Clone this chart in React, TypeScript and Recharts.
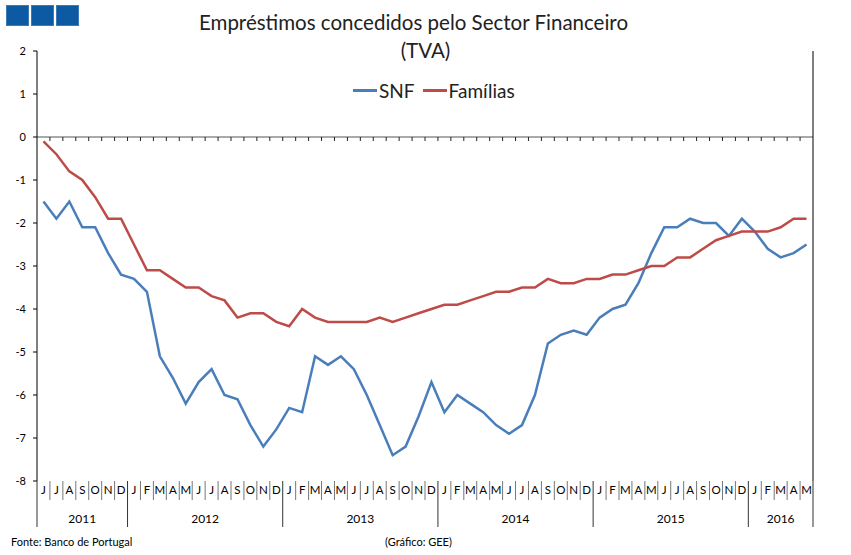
import React from 'react';
import { LineChart, Line, XAxis, YAxis, ReferenceLine } from 'recharts';

const months: string[] = [
  'J', 'J', 'A', 'S', 'O', 'N', 'D',
  'J', 'F', 'M', 'A', 'M', 'J', 'J', 'A', 'S', 'O', 'N', 'D',
  'J', 'F', 'M', 'A', 'M', 'J', 'J', 'A', 'S', 'O', 'N', 'D',
  'J', 'F', 'M', 'A', 'M', 'J', 'J', 'A', 'S', 'O', 'N', 'D',
  'J', 'F', 'M', 'A', 'M', 'J', 'J', 'A', 'S', 'O', 'N', 'D',
  'J', 'F', 'M', 'A', 'M',
];

const yearLabels: string[] = ['2011', '2012', '2013', '2014', '2015', '2016'];
const yearCounts: number[] = [7, 12, 12, 12, 12, 5];

const snf: number[] = [
  -1.5, -1.9, -1.5, -2.1, -2.1, -2.7, -3.2,
  -3.3, -3.6, -5.1, -5.6, -6.2, -5.7, -5.4, -6.0, -6.1, -6.7, -7.2, -6.8,
  -6.3, -6.4, -5.1, -5.3, -5.1, -5.4, -6.0, -6.7, -7.4, -7.2, -6.5, -5.7,
  -6.4, -6.0, -6.2, -6.4, -6.7, -6.9, -6.7, -6.0, -4.8, -4.6, -4.5, -4.6,
  -4.2, -4.0, -3.9, -3.4, -2.7, -2.1, -2.1, -1.9, -2.0, -2.0, -2.3, -1.9,
  -2.2, -2.6, -2.8, -2.7, -2.5,
];

const familias: number[] = [
  -0.1, -0.4, -0.8, -1.0, -1.4, -1.9, -1.9,
  -2.5, -3.1, -3.1, -3.3, -3.5, -3.5, -3.7, -3.8, -4.2, -4.1, -4.1, -4.3,
  -4.4, -4.0, -4.2, -4.3, -4.3, -4.3, -4.3, -4.2, -4.3, -4.2, -4.1, -4.0,
  -3.9, -3.9, -3.8, -3.7, -3.6, -3.6, -3.5, -3.5, -3.3, -3.4, -3.4, -3.3,
  -3.3, -3.2, -3.2, -3.1, -3.0, -3.0, -2.8, -2.8, -2.6, -2.4, -2.3, -2.2,
  -2.2, -2.2, -2.1, -1.9, -1.9,
];

const yTicks: number[] = [2, 1, 0, -1, -2, -3, -4, -5, -6, -7, -8];

const Y_MIN = -8;
const Y_MAX = 2;

const W = 851;
const H = 555;
const MARGIN = { top: 51, right: 8, bottom: 14, left: 7 };
const Y_AXIS_W = 30;
const X_AXIS_H = 60;
const PLOT_W = W - MARGIN.left - MARGIN.right - 2 * Y_AXIS_W;
const PLOT_H = H - MARGIN.top - MARGIN.bottom - X_AXIS_H;

const FONT = 'Lato, "Open Sans", sans-serif';

const yearStarts: number[] = [];
{
  let s = 0;
  for (const c of yearCounts) {
    yearStarts.push(s);
    s += c;
  }
}

const data = months.map((m, i) => ({
  i,
  m,
  snf: snf[i],
  fam: familias[i],
}));

const MonthTick = (props: any) => {
  const { x, y, payload } = props;
  const index: number = payload?.value ?? props.index;
  const n = months.length;
  const bw = PLOT_W / n;
  const zeroY = y - (PLOT_H * (0 - Y_MIN)) / (Y_MAX - Y_MIN);
  const isYearStart = yearStarts.includes(index);
  const els: React.ReactNode[] = [];

  els.push(
    <text key="t" x={x} y={y + 13} textAnchor="middle" fontSize={11.5} fill="#000" fontFamily={FONT}>
      {months[index]}
    </text>
  );
  if (index === 0 || isYearStart) {
    els.push(<line key="ys" x1={x - bw / 2} x2={x - bw / 2} y1={y} y2={y + 46} stroke="#333" strokeWidth={1} />);
  } else {
    els.push(<line key="ms" x1={x - bw / 2} x2={x - bw / 2} y1={y} y2={y + 19} stroke="#777" strokeWidth={1} />);
  }
  if (index !== 0) {
    els.push(<line key="zt" x1={x - bw / 2} x2={x - bw / 2} y1={zeroY} y2={zeroY + 4} stroke="#222" strokeWidth={1} />);
  }
  if (index === n - 1) {
    els.push(<line key="ye" x1={x + bw / 2} x2={x + bw / 2} y1={y} y2={y + 46} stroke="#333" strokeWidth={1} />);
  }
  yearStarts.forEach((s, k) => {
    const center = s + (yearCounts[k] - 1) / 2;
    if (Math.floor(center) === index) {
      els.push(
        <text key={'y' + k} x={x + (center - index) * bw} y={y + 42} textAnchor="middle" fontSize={12} fill="#000" fontFamily={FONT}>
          {yearLabels[k]}
        </text>
      );
    }
  });
  return <g>{els}</g>;
};

export default function App() {
  return (
    <div style={{ position: 'absolute', left: 0, top: 0, width: W, height: H, background: '#fff', fontFamily: FONT }}>
      <LineChart width={W} height={H} data={data} margin={MARGIN}>
        <XAxis
          dataKey="i"
          type="category"
          scale="band"
          interval={0}
          height={X_AXIS_H}
          axisLine={false}
          tickLine={false}
          tickSize={0}
          tickMargin={0}
          tick={<MonthTick />}
        />
        <YAxis
          yAxisId="left"
          width={Y_AXIS_W}
          domain={[Y_MIN, Y_MAX]}
          ticks={yTicks}
          interval={0}
          axisLine={{ stroke: '#000', strokeWidth: 1 }}
          tickLine={{ stroke: '#000' }}
          tickSize={4}
          tickMargin={7}
          tick={{ fontSize: 11, fill: '#000', fontFamily: FONT }}
        />
        <YAxis
          yAxisId="right"
          orientation="right"
          width={Y_AXIS_W}
          domain={[Y_MIN, Y_MAX]}
          ticks={yTicks}
          interval={0}
          axisLine={{ stroke: '#000', strokeWidth: 1 }}
          tickLine={{ stroke: '#000' }}
          tickSize={4}
          tickMargin={6}
          tick={{ fontSize: 11, fill: '#000', fontFamily: FONT, textAnchor: 'start' }}
        />
        <ReferenceLine yAxisId="left" y={0} stroke="#8c8c8c" strokeWidth={1.5} />
        <Line yAxisId="left" type="linear" dataKey="snf" stroke="#4a7ebb" strokeWidth={2.5} dot={false} isAnimationActive={false} />
        <Line yAxisId="left" type="linear" dataKey="fam" stroke="#be4b48" strokeWidth={2.5} dot={false} isAnimationActive={false} />
      </LineChart>

      <div style={{ position: 'absolute', left: 6, top: 5, display: 'flex', gap: 2 }}>
        {[0, 1, 2].map((k) => (
          <div key={k} style={{ width: 23, height: 21, background: '#0b5aa2', border: '1px solid #3b7ab8', boxSizing: 'border-box' }} />
        ))}
      </div>

      <div style={{ position: 'absolute', left: -12, top: 8, width: W, textAlign: 'center', fontSize: 20.5, lineHeight: '28px', color: '#222' }}>
        Empréstimos concedidos pelo Sector Financeiro
      </div>
      <div style={{ position: 'absolute', left: 0, top: 36, width: W, textAlign: 'center', fontSize: 20.5, lineHeight: '28px', color: '#222' }}>
        (TVA)
      </div>

      <div style={{ position: 'absolute', left: 353, top: 79, height: 22, display: 'flex', alignItems: 'center', fontSize: 19, color: '#222' }}>
        <span style={{ display: 'inline-block', width: 24, height: 3, background: '#4a7ebb' }} />
        <span style={{ marginLeft: 2 }}>SNF</span>
        <span style={{ display: 'inline-block', width: 24, height: 3, background: '#be4b48', marginLeft: 8 }} />
        <span style={{ marginLeft: 2 }}>Famílias</span>
      </div>

      <div style={{ position: 'absolute', left: 11, top: 534, fontSize: 11, lineHeight: '16px', color: '#000' }}>
        Fonte: Banco de Portugal
      </div>
      <div style={{ position: 'absolute', left: 385, top: 534, fontSize: 11, lineHeight: '16px', color: '#000' }}>
        (Gráfico: GEE)
      </div>
    </div>
  );
}
